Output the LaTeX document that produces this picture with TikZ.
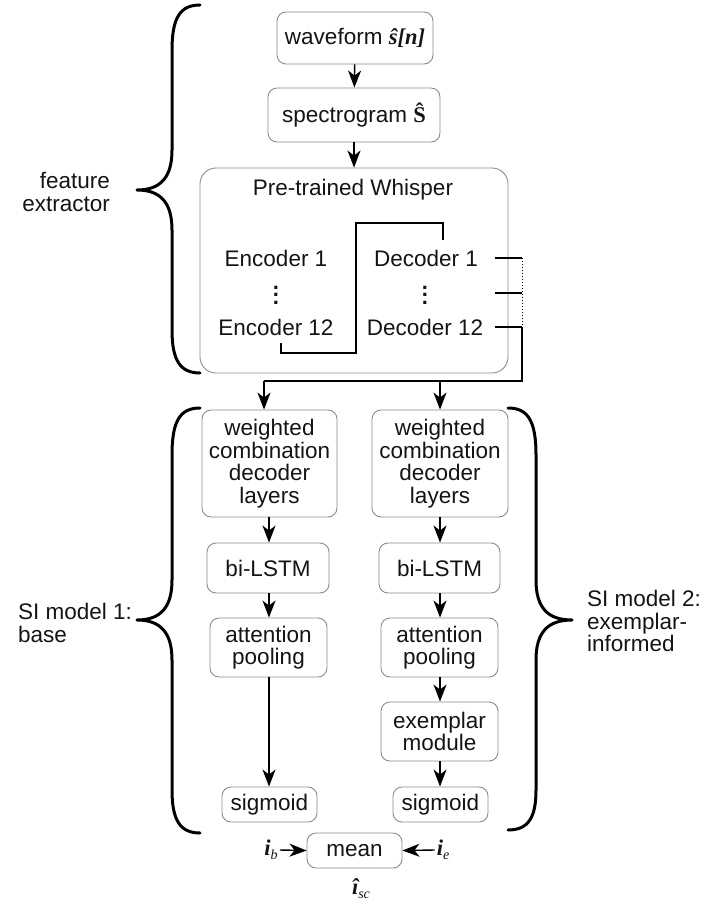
\documentclass[tikz,border=0pt]{standalone}
\usepackage{fontspec}
\setmainfont{Liberation Sans}
\newfontfamily\serifm{Liberation Serif}
\usetikzlibrary{arrows.meta,calc}
\begin{document}
\begin{tikzpicture}[x=1pt,y=-1pt,
  every node/.style={font=\fontsize{22.5}{22.5}\selectfont, text=black!92, inner sep=0pt},
  box/.style={draw=black!45, line width=0.9pt, rounded corners=9pt, align=center},
  arr/.style={-{Stealth[length=17pt,width=13pt,inset=5pt]}, line width=1.4pt},
  ln/.style={line width=1.2pt},
  dots/.style={font=\bfseries\fontsize{22}{7.5}\selectfont, align=center},
  brc/.style={line width=3pt, line cap=round, line join=round}]
\useasboundingbox (0,0) rectangle (715,909);

% top chain
\node[box, minimum width=156pt, minimum height=52pt] (wave) at (355,38)
  {waveform {\serifm\bfseries\itshape ŝ[n]}};
\node[box, minimum width=172pt, minimum height=54pt] (spec) at (354,115)
  {spectrogram {\serifm\bfseries Ŝ}};
\node[box, minimum width=308pt, minimum height=205pt, rounded corners=16pt] (whisper) at (354,270.5) {};
\node (title) at (353,190) {Pre-trained Whisper};
\node (enc1) at (276,258) {Encoder 1};
\node[dots] (encd) at (276,295) {.\\.\\.};
\node (enc12) at (276,327) {Encoder 12};
\node (dec1) at (426,258) {Decoder 1};
\node[dots] (decd) at (425,295) {.\\.\\.};
\node (dec12) at (425,327) {Decoder 12};

\draw[arr] (wave) -- (spec);
\draw[arr] (spec.south) -- (spec.south |- whisper.north);

% encoder -> decoder connector
\coordinate (e0) at (281,343);
\coordinate (d0) at (443,240);
\draw[ln] (e0) -- ++(0,10) -| (356,223) -| (d0);

% decoder taps
\coordinate (t1) at (522,258);
\coordinate (t2) at (522,293);
\coordinate (t3) at (522,327);
\coordinate (hub) at (522,381);
\draw[ln] (495,258) -- (t1);
\draw[ln] (495,293) -- (t2);
\draw[ln] (495,327) -- (t3);
\draw[line width=1pt, dotted] (t1) -- (t3);

% SI model columns
\node[box, minimum width=135pt, minimum height=107pt] (wl) at (269.5,463.5)
  {weighted\\combination\\decoder\\layers};
\node[box, minimum width=136pt, minimum height=107pt] (wr) at (440,463.5)
  {weighted\\combination\\decoder\\layers};
\node[box, minimum width=122pt, minimum height=50pt] (bl) at (268,568) {bi-LSTM};
\node[box, minimum width=121pt, minimum height=50pt] (br) at (439.5,568) {bi-LSTM};
\node[box, minimum width=117pt, minimum height=59pt] (al) at (268.5,647.5) {attention\\pooling};
\node[box, minimum width=117pt, minimum height=59pt] (ar) at (439.5,647.5) {attention\\pooling};
\node[box, minimum width=117pt, minimum height=59pt] (ex) at (439.5,731.5) {exemplar\\module};
\node[box, minimum width=95pt, minimum height=35pt] (sl) at (269.5,804.5) {sigmoid};
\node[box, minimum width=95pt, minimum height=35pt] (sr) at (440.5,804.5) {sigmoid};
\node[box, minimum width=95pt, minimum height=35pt] (mean) at (354.5,850.5) {mean};

\draw[ln] (t3) -- (hub) -- (264,381);
\draw[arr] (264,381) -- (264,381 |- wl.north);
\draw[arr] (440,381) -- (wr.north);

\draw[arr] (wl.south -| 269,0) -- (bl.north -| 269,0);
\draw[arr] (wr.south) -- (br.north -| wr.south);
\draw[arr] (bl.south -| 269,0) -- (al.north -| 269,0);
\draw[arr] (br.south -| wr.south) -- (ar.north -| wr.south);
\draw[arr] (al.south -| 269,0) -- (sl.north -| 269,0);
\draw[arr] (ar.south -| wr.south) -- (ex.north -| wr.south);
\draw[arr] (ex.south -| wr.south) -- (sr.north -| wr.south);

% outputs
\node (ib) at (271,850) {{\serifm\bfseries\itshape i}\raisebox{-4pt}{\serifm\itshape\fontsize{14}{14}\selectfont b}};
\node (ie) at (443,850) {{\serifm\bfseries\itshape i}\raisebox{-4pt}{\serifm\itshape\fontsize{14}{14}\selectfont e}};
\node (isc) at (361,889) {{\serifm\bfseries\itshape î}\raisebox{-4pt}{\serifm\itshape\fontsize{14}{14}\selectfont sc}};
\draw[arr] (ib.east) ++(2,0) -- (mean.west);
\draw[arr] (ie.west) ++(-2,0) -- (mean.east);

% braces
\draw[brc] (200,5) .. controls (180,5) and (172,18) .. (172,50)
  -- (172,150) .. controls (172,178) and (160,190) .. (137,190)
  .. controls (160,190) and (172,202) .. (172,230)
  -- (172,330) .. controls (172,360) and (180,373) .. (200,373);
\node[align=right, anchor=east] (fe) at (110,192) {feature\\extractor};

\draw[brc] (200,408) .. controls (180,408) and (172,421) .. (172,455)
  -- (172,580) .. controls (172,608) and (160,620) .. (137,620)
  .. controls (160,620) and (172,632) .. (172,660)
  -- (172,790) .. controls (172,820) and (180,833) .. (200,833);
\node[align=left, anchor=west] (si1) at (18,623) {SI model 1:\\base};

\draw[brc] (508,408) .. controls (528,408) and (536,421) .. (536,455)
  -- (536,580) .. controls (536,608) and (548,620) .. (572,620)
  .. controls (548,620) and (536,632) .. (536,660)
  -- (536,790) .. controls (536,818) and (528,830) .. (508,830);
\node[align=left, anchor=west] (si2) at (587,621) {SI model 2:\\exemplar-\\informed};
\end{tikzpicture}
\end{document}
